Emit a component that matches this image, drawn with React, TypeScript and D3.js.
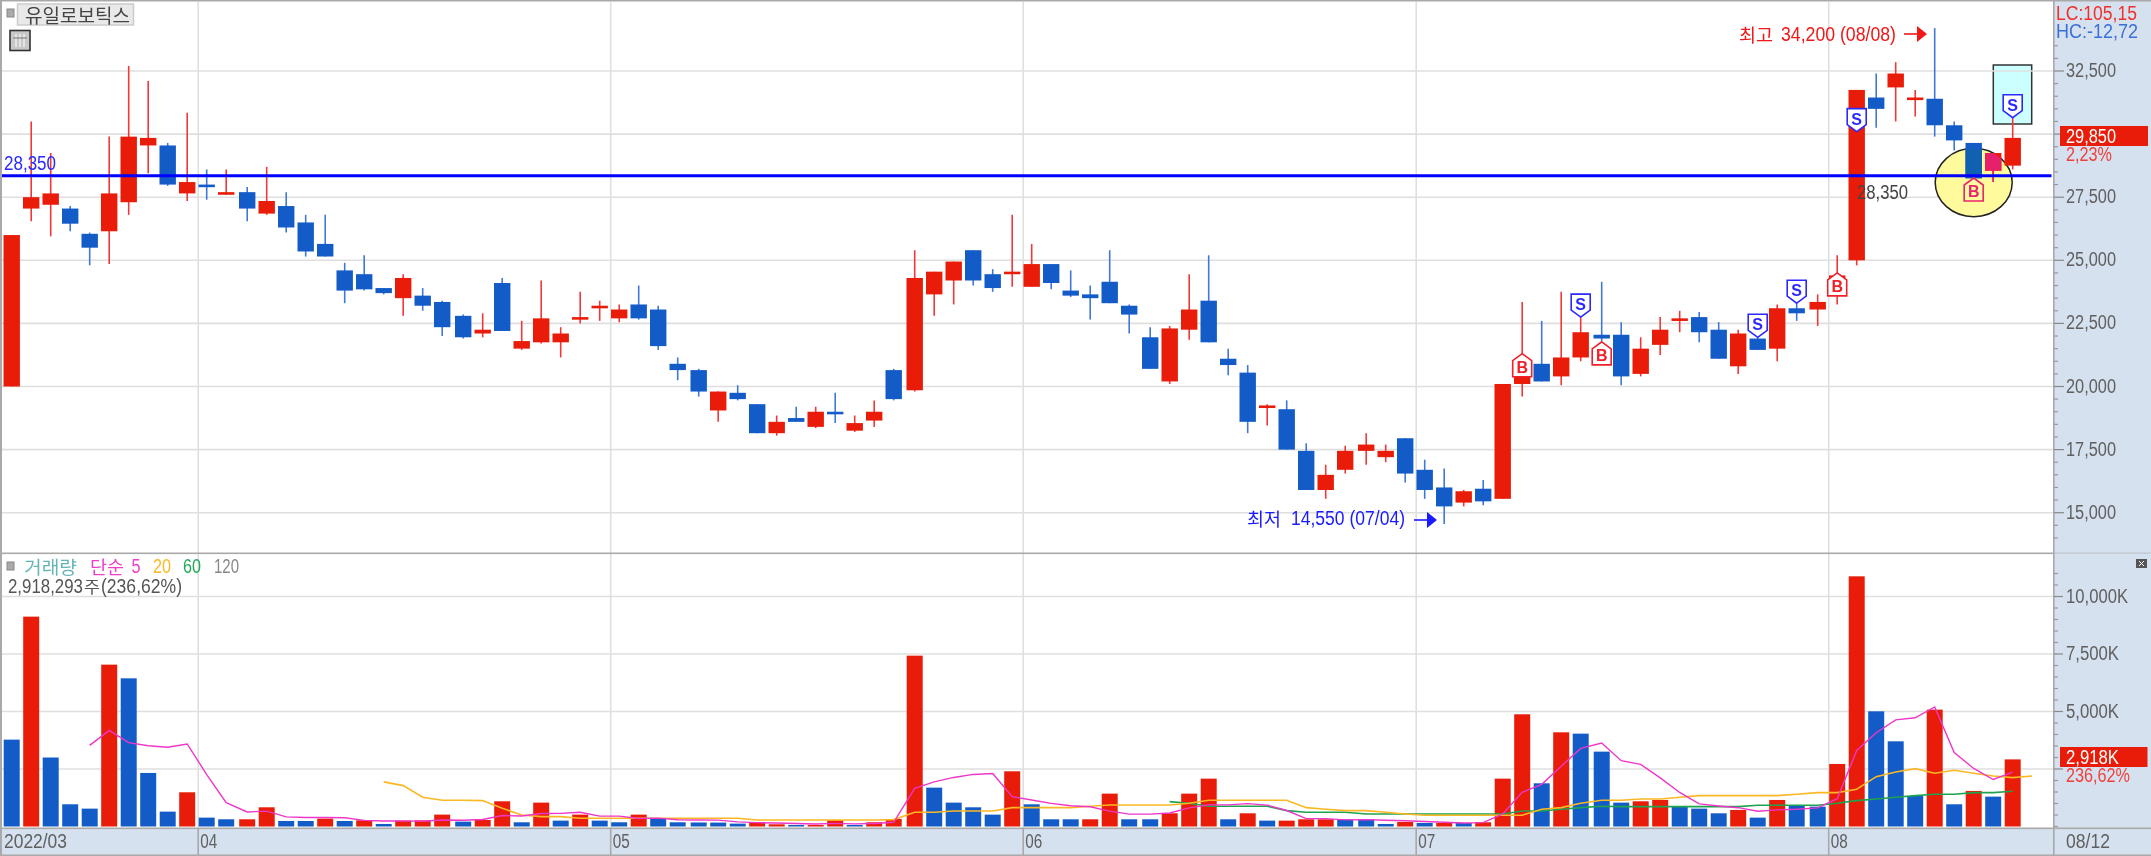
import React, { useEffect } from "react";
import * as d3 from "d3";

const opens = [20000,27050,27200,27050,26050,26150,27300,29550,29550,27650,28000,27600,27700,26850,27150,26500,25650,24600,24450,23900,23500,23600,23350,22800,22100,24100,21500,21750,21750,22700,23100,22700,23250,23050,20900,20650,19050,19750,19300,18150,18750,18400,19000,18250,18650,20650,19850,23650,24200,25400,24450,24450,23950,24850,23800,23650,24150,23200,21950,20200,22250,23400,21100,20550,19150,19100,17450,15900,16700,17450,17200,17950,16700,16000,15400,15950,15550,20100,20900,20400,21150,22050,22050,20500,21650,22650,22750,22250,20800,21900,21500,23100,23050,23600,25000,31450,31850,31350,31400,30350,29650,28550,28750];
const highs = [26000,30500,29250,27150,26100,29900,32700,32100,29650,30850,28600,28600,27900,28700,27700,26800,26800,24900,25200,23900,24450,23900,23400,22850,22900,24300,22600,24200,22350,23750,23400,23250,24000,23200,21150,20700,19800,20050,19300,18850,19200,19200,19750,18850,19450,20700,25400,24550,24950,25400,24650,26800,25650,24850,24600,24000,25400,23250,22350,22400,24450,25200,21500,20850,19300,19450,17750,16900,17650,18150,17700,17950,17100,16750,15900,16300,20100,23350,22600,23750,22750,24150,22550,21950,22750,23000,22950,22550,22250,21950,23250,23300,23650,25200,31750,32400,32850,31750,34200,30500,29650,29250,30650];
const lows = [20000,26550,25950,26150,24800,24850,26800,28450,27950,27350,27400,27600,26550,26800,26100,25150,25150,23300,23800,23650,22800,23000,22000,21900,21950,22200,21450,21700,21150,22500,22600,22550,22650,21450,20250,19600,18600,19450,18150,18050,18600,18350,18550,18200,18400,19450,19800,22800,23250,24000,23750,23950,23950,23850,23550,22650,23300,22100,20700,20100,21850,21750,20450,18150,18450,17500,15900,15550,16550,16900,17000,16200,15550,14550,15250,15300,15550,19600,20200,20050,21000,21800,20050,20400,21250,22150,21750,21100,20500,21450,21000,22600,22400,23250,24800,30250,30500,30700,29900,29350,28250,28100,28600];
const closes = [26000,27500,27650,26450,25500,27650,29900,29850,28000,28100,27950,27700,27050,27350,26300,25350,25150,23800,23850,23700,24300,23200,22350,21950,22250,22200,21800,22700,22100,22750,23200,23050,22700,21600,20650,19800,19800,19500,18150,18600,18600,19000,18900,18550,19000,19500,24300,24550,24950,24200,23900,24550,24850,24100,23600,23500,23300,22850,20700,22300,23050,21750,20850,18600,19250,17500,15900,16500,17450,17700,17450,16550,15900,15250,15850,15450,20100,20400,20200,21150,22150,21900,20400,21500,22250,22700,22150,21100,22100,21450,23100,22900,23350,24400,31750,31000,32400,31450,30350,29750,28250,29250,29850];

const volumes = [3777,9124,3000,966,777,7037,6443,2328,647,1488,386,314,314,835,240,240,343,240,270,110,255,265,517,212,285,1096,183,1038,255,516,255,183,516,342,183,175,170,125,183,96,67,67,270,67,183,328,7428,1690,1038,835,516,2400,965,313,313,313,1429,313,313,574,1429,2081,313,574,255,255,313,313,313,313,110,197,154,154,154,183,2081,4878,1878,4095,4037,3255,1038,1096,1154,864,777,574,720,386,1154,922,864,2719,10877,5008,3704,1328,5080,966,1546,1299,2918];
const volumeUp = "0100010001" + "0011001010" + "1110110101" + "0010000011" + "0110111000" + "0100011001" + "1101011100" + "0101011101" + "0001100010" + "1001100010101";
const ma5 = [3529,4181,3645,3510,3446,3589,2258,1033,630,667,418,389,394,380,267,241,244,228,283,272,307,475,459,563,571,618,449,449,345,362,296,280,277,199,167,150,128,108,137,113,131,183,1655,1939,2133,2264,2301,1296,1151,1006,901,861,667,536,536,588,812,942,942,994,930,696,342,342,290,301,272,249,217,186,154,168,545,1490,1835,2623,3394,3629,2861,2704,2116,1481,986,893,818,664,722,751,809,1209,3307,4078,4634,4727,5199,3217,2525,2044,2362];
const ma5Start = 4;
const ma20 = [1940,1777,1270,1140,1140,1125,792,500,429,429,357,357,357,357,357,357,357,357,357,285,285,285,285,285,285,285,300,617,617,676,676,676,820,820,820,820,878,936,936,936,936,1009,1139,1139,1139,1139,1139,820,748,690,690,617,545,487,487,487,487,487,487,748,820,1009,1139,1139,1197,1197,1270,1342,1342,1342,1342,1342,1400,1473,1473,1618,2168,2371,2516,2313,2444,2313,2197,2125,2197];
const ma20Start = 19;
const ma60 = [1081,1009,878,878,878,878,690,617,617,617,545,545,545,545,545,545,545,545,676,676,748,820,878,864,864,864,864,864,864,864,922,922,922,922,1009,1125,1197,1270,1342,1400,1400,1473,1473,1531];
const ma60Start = 59;

const priceTicks = [15000,17500,20000,22500,25000,27500,30000,32500];
const priceMinor = [14000,14500,15500,16000,16500,17000,18000,18500,19000,19500,20500,21000,21500,22000,23000,23500,24000,24500,25500,26000,26500,27000,28000,28500,29000,29500,30500,31000,31500,32000,33000,33500];
const priceHiddenLabels = [30000];
const volumeTicks = [2500,5000,7500,10000];
const volumeHiddenLabels = [2500];
const volumeMinor = [0,500,1000,1500,2000,3000,3500,4000,4500,5500,6000,6500,7000,8000,8500,9000,9500,10500,11000];
const monthLastIndex = [9,30,51,71,92];
const monthLabels = ["04","05","06","07","08"];
const signalIndex = [94,80,89,91,102,77,81,93,100];
const signalType = ["S","S","S","S","S","B","B","B","B"];
const signalPrice = [30100,22750,21950,23300,30650,21300,21770,24500,28260];

const W = 2151, H = 856;
const RED = "#e81c08", BLUE = "#135cc8", PANEL = "#d6e1ef", GRID = "#dfdfdf", EDGE = "#a9a9a9", TXT = "#606060";
const FONT = "'Liberation Sans Narrow','Liberation Sans','Noto Sans CJK KR',sans-serif";
const KFONT = "'Noto Sans CJK KR',sans-serif";

const y = d3.scaleLinear().domain([15000, 32500]).range([512.7, 71]);
const yv = d3.scaleLinear().domain([0, 10000]).range([826.5, 596.5]);
const xBase = d3.scaleLinear().domain([0, 1]).range([11.7, 31.2]);
const x = (i: number) => xBase(i) + Math.floor(i / 11.5) * 1.5;
const monthX = monthLastIndex.map((i) => x(i) + 11);
const bodyW = 16.4;

const fmt = d3.format(",");
const ellipse = { cx: 1973.7, cy: 182.5, rx: 38.5, ry: 34.2 };

function T({ x: tx, y: ty, s = 19.5, c = TXT, w, f = FONT, children }: any) {
  return (
    <text x={tx} y={ty} fontSize={s} fill={c} fontFamily={f} dominantBaseline="central"
      textLength={w} lengthAdjust={w ? "spacingAndGlyphs" : undefined}>
      {children}
    </text>
  );
}

function Candle({ i, up, down, wickUp, wickDown }: any) {
  const isUp = closes[i] >= opens[i];
  const top = y(Math.max(opens[i], closes[i]));
  const bottom = y(Math.min(opens[i], closes[i]));
  const h = Math.max(bottom - top, 2.6);
  return (
    <g>
      <line x1={x(i)} x2={x(i)} y1={y(highs[i])} y2={y(lows[i])} stroke={isUp ? wickUp : wickDown} strokeWidth={1.6} />
      <rect x={x(i) - bodyW / 2} y={top} width={bodyW} height={h} fill={isUp ? up : down} />
    </g>
  );
}

function Signal({ i, kind, price, pink }: any) {
  const px = x(i), py = y(price);
  const hw = 9.5, h = 23;
  const col = kind === "S" ? "#2a2aff" : pink ? "#e8246c" : "#f0202a";
  const d = kind === "S"
    ? `M${px},${py} L${px + hw},${py - 7} L${px + hw},${py - h} L${px - hw},${py - h} L${px - hw},${py - 7} Z`
    : `M${px},${py} L${px + hw},${py + 7} L${px + hw},${py + h} L${px - hw},${py + h} L${px - hw},${py + 7} Z`;
  return (
    <g>
      <path d={d} fill={pink ? "#fffca0" : "#fff"} stroke={col} strokeWidth={1.6} />
      <text x={px} y={kind === "S" ? py - 12.5 : py + 13.5} textAnchor="middle" dominantBaseline="central"
        fontSize={16} fontWeight={700} fontFamily="'Liberation Sans',sans-serif" fill={col}>{kind}</text>
    </g>
  );
}

export default function App() {
  useEffect(() => { document.body.style.margin = "0"; }, []);
  const all = d3.range(opens.length);
  const lineGen = (start: number) => d3.line<number>().x((_, k) => x(start + k)).y((d) => yv(d));
  return (
    <svg width={W} height={H} style={{ display: "block", position: "fixed", left: 0, top: 0, background: "#fff", filter: "blur(0.35px)" }}>
      <defs>
        <clipPath id="ell"><ellipse {...ellipse} /></clipPath>
      </defs>

      <rect x={1993.3} y={65} width={38.4} height={59} fill="#ccffff" stroke="#333" strokeWidth={1.5} />

      {priceTicks.map((t) => <line key={t} x1={2} x2={2054} y1={y(t)} y2={y(t)} stroke={GRID} strokeWidth={1.6} />)}
      {volumeTicks.map((t) => <line key={t} x1={2} x2={2054} y1={yv(t)} y2={yv(t)} stroke={GRID} strokeWidth={1.6} />)}
      {monthX.map((mx) => <line key={mx} x1={mx} x2={mx} y1={2} y2={828} stroke={GRID} strokeWidth={1.6} />)}

      <ellipse {...ellipse} fill="#fffa9c" stroke="#222" strokeWidth={1.5} />

      {all.map((i) => <Candle key={i} i={i} up={RED} down={BLUE} wickUp="#f0383a" wickDown="#3f78d8" />)}
      <g clipPath="url(#ell)">
        {[100, 101].map((i) => <Candle key={i} i={i} up="#e6206a" down="#1260b0" wickUp="#e6206a" wickDown="#1260b0" />)}
      </g>

      <line x1={2} x2={2051.5} y1={y(28350)} y2={y(28350)} stroke="#0000ff" strokeWidth={3} />
      <T x={4} y={163} c="#2a2aff" w={52}>28,350</T>
      <T x={1857} y={192} c="#444" w={51}>28,350</T>

      {signalIndex.map((i, k) => <Signal key={k} i={i} kind={signalType[k]} price={signalPrice[k]} pink={i === 100} />)}

      <T x={1739} y={34} c="#f01818" s={18} f={KFONT} w={34}>최고</T>
      <T x={1781} y={34} c="#f01818" w={115}>34,200 (08/08)</T>
      <line x1={1904} x2={1918} y1={34} y2={34} stroke="#f01818" strokeWidth={1.6} />
      <path d="M1917,26 L1927,34 L1917,42 Z" fill="#f01818" />
      <T x={1247} y={518} c="#1a1aff" s={18} f={KFONT} w={34}>최저</T>
      <T x={1291} y={518} c="#1a1aff" w={114}>14,550 (07/04)</T>
      <line x1={1414} x2={1428} y1={520} y2={520} stroke="#1a1aff" strokeWidth={1.6} />
      <path d="M1427,512 L1437,520 L1427,528 Z" fill="#1a1aff" />

      {volumes.map((v, i) => (
        <rect key={i} x={x(i) - 8} width={16} y={yv(v)} height={yv(0) - yv(v)}
          fill={volumeUp[i] === "1" ? RED : BLUE} />
      ))}
      <path d={lineGen(ma60Start)(ma60) as string} fill="none" stroke="#1fa34f" strokeWidth={1.6} />
      <path d={lineGen(ma20Start)(ma20) as string} fill="none" stroke="#fbb824" strokeWidth={1.6} />
      <path d={lineGen(ma5Start)(ma5) as string} fill="none" stroke="#ee36c8" strokeWidth={1.4} />

      <rect x={2054} y={0} width={97} height={H} fill={PANEL} />
      <rect x={0} y={828} width={W} height={28} fill={PANEL} />
      <rect x={0} y={0} width={W} height={1.5} fill={EDGE} />
      <rect x={0} y={0} width={2} height={H} fill={EDGE} />
      <rect x={0} y={552.5} width={2054} height={1.6} fill={EDGE} />
      <rect x={0} y={827.5} width={W} height={1.6} fill={EDGE} />
      <rect x={0} y={854.5} width={W} height={1.5} fill={EDGE} />
      <rect x={2053} y={0} width={1.6} height={H} fill={EDGE} />
      <rect x={2053} y={552.5} width={98} height={1.2} fill={EDGE} opacity={0.5} />

      {priceMinor.map((t) => <line key={t} x1={2054} x2={2058} y1={y(t)} y2={y(t)} stroke="#999" strokeWidth={1.2} />)}
      {priceTicks.map((t) => <g key={t}>
        <line x1={2054} x2={2064} y1={y(t)} y2={y(t)} stroke="#888" strokeWidth={1.2} />
        {!priceHiddenLabels.includes(t) && <T x={2066} y={y(t) - 1} w={50}>{fmt(t)}</T>}
      </g>)}
      {volumeMinor.map((t) => <line key={t} x1={2054} x2={2058} y1={yv(t)} y2={yv(t)} stroke="#999" strokeWidth={1.2} />)}
      {volumeTicks.map((t) => <g key={t}>
        <line x1={2054} x2={2063} y1={yv(t)} y2={yv(t)} stroke="#888" strokeWidth={1.2} />
        {!volumeHiddenLabels.includes(t) && <T x={2066} y={yv(t) - 1} w={t === 10000 ? 62 : 53}>{fmt(t) + "K"}</T>}
      </g>)}

      <T x={2056} y={13} c="#f0302a" w={81}>LC:105,15</T>
      <T x={2056} y={31} c="#3a70d8" w={82}>HC:-12,72</T>
      <rect x={2060} y={126} width={88} height={20} fill={RED} />
      <T x={2066} y={135.5} c="#fff" w={50}>29,850</T>
      <T x={2066} y={154} c="#f0403a" w={46}>2,23%</T>
      <rect x={2060} y={747} width={87.5} height={20} fill={RED} />
      <T x={2066} y={756.5} c="#fff" w={53}>2,918K</T>
      <T x={2066} y={775} c="#f0403a" w={64}>236,62%</T>

      {monthX.map((mx) => <line key={mx} x1={mx} x2={mx} y1={828} y2={855} stroke={EDGE} strokeWidth={1.6} />)}
      <T x={4} y={840.5} w={63}>2022/03</T>
      {monthLabels.map((m, k) => <T key={m} x={monthX[k] + 2} y={840.5} w={17}>{m}</T>)}
      <T x={2066} y={840.5} w={44}>08/12</T>

      <rect x={7} y={9} width={7} height={8} fill="#aaa" stroke="#888" />
      <rect x={17.5} y={4} width={116} height={21} fill="#e9e9e9" stroke="#ccc" strokeWidth={1.5} />
      <T x={25} y={14.5} s={19} c="#444" f={KFONT} w={105}>유일로보틱스</T>
      <rect x={10} y={30.5} width={20} height={20} fill="#c8c8c8" stroke="#333" strokeWidth={1.6} />
      {[0.3, 0.5, 0.7].map((t) => <line key={t} x1={10 + 20 * t} x2={10 + 20 * t} y1={34} y2={47} stroke="#fff" />)}
      <line x1={13} x2={27} y1={38} y2={38} stroke="#777" />

      <rect x={7} y={562} width={7} height={8} fill="#aaa" stroke="#888" />
      <T x={24} y={566} s={18} c="#66b4b4" f={KFONT} w={53}>거래량</T>
      <T x={90} y={566} s={18} c="#ee40c8" f={KFONT} w={34}>단순</T>
      <T x={131.5} y={566} c="#ee40c8" w={9}>5</T>
      <T x={153} y={566} c="#fbb824" w={18}>20</T>
      <T x={183} y={566} c="#22a858" w={18}>60</T>
      <T x={214} y={566} c="#888" w={25}>120</T>
      <T x={8} y={586} c="#555" w={75}>2,918,293</T>
      <T x={84} y={586} s={16} c="#555" f={KFONT} w={16}>주</T>
      <T x={101} y={586} c="#555" w={81}>(236,62%)</T>

      <rect x={2136} y={559} width={11} height={9} fill="#555" />
      <path d="M2139,561 L2144,566 M2144,561 L2139,566" stroke="#fff" strokeWidth={1} />
    </svg>
  );
}
